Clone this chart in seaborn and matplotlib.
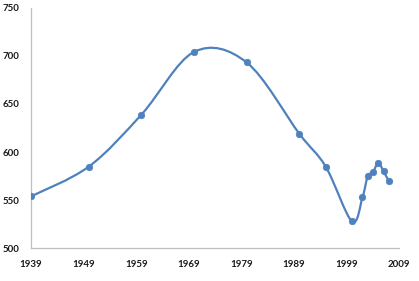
import numpy as np
import matplotlib
matplotlib.use("Agg")
import matplotlib.pyplot as plt
from matplotlib.path import Path
from matplotlib.patches import PathPatch
import seaborn as sns
import pandas as pd

years = [1939, 1950, 1960, 1970, 1980, 1990, 1995, 2000, 2002, 2003, 2004, 2005, 2006, 2007]
values = [554, 585, 639, 704, 693, 619, 585, 528, 553, 575, 579, 589, 580, 570]
x_ticks = [1939, 1949, 1959, 1969, 1979, 1989, 1999, 2009]
y_ticks = [500, 550, 600, 650, 700, 750]

blue = "#4F81BD"

sns.set_style("white")
plt.rcParams["font.family"] = ["Lato", "DejaVu Sans"]

df = pd.DataFrame({"year": years, "value": values})

fig = plt.figure(figsize=(4.19, 2.81), dpi=100)
ax = fig.add_axes([0.074, 0.116, 0.879, 0.857])

# smoothed line like Excel (Catmull-Rom style Bezier through the data points)
pts = np.column_stack([df["year"], df["value"]]).astype(float)
verts = [pts[0]]
codes = [Path.MOVETO]
n = len(pts)
for i in range(n - 1):
    p0 = pts[i - 1] if i > 0 else pts[i]
    p1 = pts[i]
    p2 = pts[i + 1]
    p3 = pts[i + 2] if i + 2 < n else pts[i + 1]
    c1 = p1 + (p2 - p0) / 6.0
    c2 = p2 - (p3 - p1) / 6.0
    verts += [c1, c2, p2]
    codes += [Path.CURVE4] * 3
ax.add_patch(PathPatch(Path(verts, codes), facecolor="none", edgecolor=blue, lw=1.6, zorder=2))

sns.scatterplot(data=df, x="year", y="value", color=blue, s=22, edgecolor=blue,
                linewidth=0.5, zorder=3, ax=ax)

ax.set_xlim(1939, 2009)
ax.set_ylim(500, 750)
ax.set_xticks(x_ticks)
ax.set_yticks(y_ticks)
ax.set_xlabel("")
ax.set_ylabel("")
for s in ["top", "right"]:
    ax.spines[s].set_visible(False)
for s in ["left", "bottom"]:
    ax.spines[s].set_color("#BFBFBF")
    ax.spines[s].set_linewidth(0.9)
ax.tick_params(axis="x", direction="inout", length=4, width=0.8, color="#BFBFBF",
               labelsize=7, pad=6)
ax.tick_params(axis="y", direction="out", length=3, width=0.8, color="#BFBFBF",
               labelsize=7, pad=5)
for lab in ax.get_xticklabels() + ax.get_yticklabels():
    lab.set_fontweight("bold")
    lab.set_color("#1a1a1a")

fig.savefig("out.png", dpi=100)
